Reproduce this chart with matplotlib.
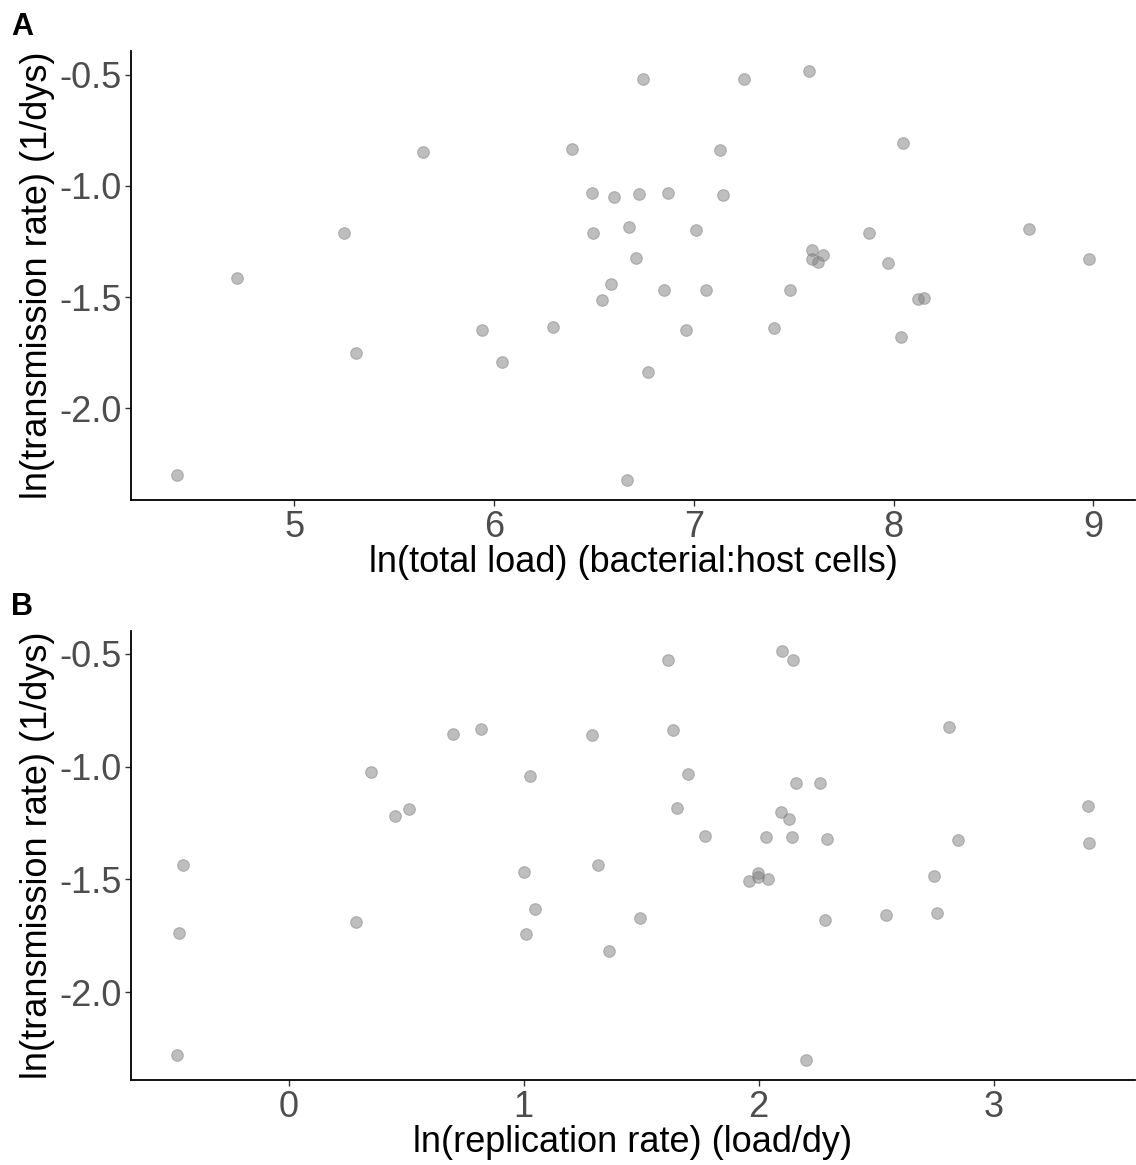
import matplotlib.pyplot as plt

plt.rcParams['font.family'] = ['Liberation Sans', 'DejaVu Sans']

# transmission vs. total load
load_x = [4.412, 4.714, 5.252, 5.308, 5.644, 5.938, 6.040, 6.296, 6.393, 6.493,
          6.496, 6.542, 6.588, 6.599, 6.667, 6.678, 6.710, 6.728, 6.745, 6.770,
          6.849, 6.871, 6.963, 7.009, 7.063, 7.131, 7.145, 7.252, 7.403, 7.480,
          7.575, 7.590, 7.590, 7.621, 7.649, 7.879, 7.972, 8.035, 8.048, 8.121,
          8.151, 8.680, 8.980]
load_y = [-2.300, -1.413, -1.212, -1.752, -0.846, -1.649, -1.790, -1.635, -0.836, -1.033,
          -1.213, -1.512, -1.443, -1.051, -2.321, -1.184, -1.325, -1.037, -0.521, -1.835,
          -1.467, -1.030, -1.646, -1.199, -1.466, -0.840, -1.043, -0.521, -1.637, -1.467,
          -0.485, -1.288, -1.331, -1.343, -1.313, -1.212, -1.345, -1.679, -0.809, -1.508,
          -1.503, -1.194, -1.327]

# transmission vs. replication rate
rep_x = [-0.477, -0.465, -0.449, 0.286, 0.350, 0.451, 0.513, 0.701, 0.820, 1.000,
         1.008, 1.026, 1.050, 1.290, 1.315, 1.362, 1.497, 1.616, 1.635, 1.654,
         1.701, 1.774, 1.961, 1.997, 1.998, 2.033, 2.038, 2.094, 2.099, 2.129,
         2.141, 2.147, 2.158, 2.201, 2.263, 2.281, 2.293, 2.541, 2.745, 2.760,
         2.809, 2.849, 3.401, 3.408]
rep_y = [-2.278, -1.738, -1.435, -1.687, -1.022, -1.219, -1.188, -0.856, -0.834, -1.467,
         -1.741, -1.040, -1.633, -0.859, -1.438, -1.817, -1.670, -0.529, -0.837, -1.185,
         -1.034, -1.306, -1.507, -1.471, -1.488, -1.312, -1.496, -1.203, -0.490, -1.231,
         -1.312, -0.526, -1.071, -2.298, -1.074, -1.680, -1.322, -1.659, -1.485, -1.648,
         -0.824, -1.325, -1.176, -1.340]

x_labels = ['ln(total load) (bacterial:host cells)', 'ln(replication rate) (load/dy)']
y_label = 'ln(transmission rate) (1/dys)'
panel_tags = ['A', 'B']
xticks = [[5, 6, 7, 8, 9], [0, 1, 2, 3]]
yticks = [-2.0, -1.5, -1.0, -0.5]

fig = plt.figure(figsize=(11.36, 11.65), dpi=100)
W, H = 1136, 1165

panels = [(load_x, load_y, 500), (rep_x, rep_y, 1080)]
for i, (xs, ys, bottom_px) in enumerate(panels):
    ax = fig.add_axes([131 / W, 1 - bottom_px / H, (1135 - 131) / W, 449 / H])
    ax.scatter(xs, ys, s=70, color='#7f7f7f', alpha=0.5, linewidths=0.8,
               edgecolors='#7f7f7f', zorder=3)
    ax.margins(0.05)
    for side in ['top', 'right']:
        ax.spines[side].set_visible(False)
    for side in ['left', 'bottom']:
        ax.spines[side].set_linewidth(1.3)
        ax.spines[side].set_color('black')
    ax.set_xticks(xticks[i])
    ax.set_yticks(yticks)
    ax.set_yticklabels(['%.1f' % v for v in yticks])
    ax.tick_params(axis='both', length=4, width=1.0, color='#333333',
                   labelsize=26, labelcolor='#4d4d4d', pad=3)
    ax.set_xlabel(x_labels[i], fontsize=26, color='black', labelpad=0)
    ax.set_ylabel(y_label, fontsize=26, color='black', labelpad=3)
    fig.text(11 / W, 1 - (12 + 580 * i) / H, panel_tags[i], fontsize=22,
             fontweight='bold', va='top', ha='left')

fig.savefig('out.png', dpi=100)
